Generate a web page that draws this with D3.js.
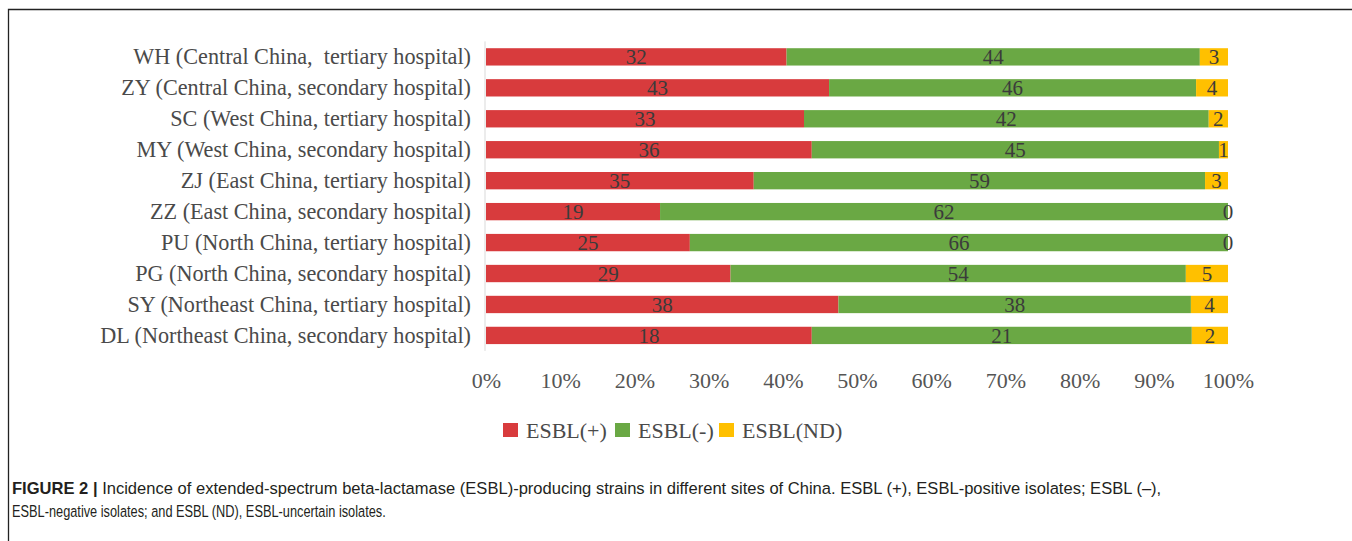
<!DOCTYPE html>
<html>
<head>
<meta charset="utf-8">
<script src="https://cdn.jsdelivr.net/npm/d3@7"></script>
<style>
html,body{margin:0;padding:0;background:#fff;}
svg{display:block;}
</style>
</head>
<body>
<svg id="chart" width="1352" height="541"></svg>
<script>
const categories = [
  "WH (Central China,  tertiary hospital)",
  "ZY (Central China, secondary hospital)",
  "SC (West China, tertiary hospital)",
  "MY (West China, secondary hospital)",
  "ZJ (East China, tertiary hospital)",
  "ZZ (East China, secondary hospital)",
  "PU (North China, tertiary hospital)",
  "PG (North China, secondary hospital)",
  "SY (Northeast China, tertiary hospital)",
  "DL (Northeast China, secondary hospital)"
];
const esblPos = [32, 43, 33, 36, 35, 19, 25, 29, 38, 18];
const esblNeg = [44, 46, 42, 45, 59, 62, 66, 54, 38, 21];
const esblND  = [3, 4, 2, 1, 3, 0, 0, 5, 4, 2];
const seriesNames = ["ESBL(+)", "ESBL(-)", "ESBL(ND)"];
const xTicks = [0, 0.1, 0.2, 0.3, 0.4, 0.5, 0.6, 0.7, 0.8, 0.9, 1.0];
const captionBold = "FIGURE 2 |";
const captionLine1 = " Incidence of extended-spectrum beta-lactamase (ESBL)-producing strains in different sites of China. ESBL (+), ESBL-positive isolates; ESBL (\u2013),";
const captionLine2 = "ESBL-negative isolates; and ESBL (ND), ESBL-uncertain isolates.";

const colors = ["#d83b3d", "#6aa844", "#ffc000"];
const serif = "'Liberation Serif','Times New Roman',serif";

const svg = d3.select("#chart");

// frame
svg.append("path")
  .attr("d", "M1352,9.5H8.5V541")
  .attr("fill", "none").attr("stroke", "#222").attr("stroke-width", 1.3);

const rows = categories.map((c, i) => ({cat: c, v: [esblPos[i], esblNeg[i], esblND[i]]}));
const stackData = rows.map(r => {
  const t = d3.sum(r.v);
  return {cat: r.cat, raw: r.v, s0: r.v[0] / t, s1: r.v[1] / t, s2: r.v[2] / t};
});
const series = d3.stack().keys(["s0", "s1", "s2"])(stackData);

const x = d3.scaleLinear().domain([0, 1]).range([486, 1228]);
const y = d3.scaleBand().domain(categories).range([41.4, 350.9])
  .paddingInner(0.44).paddingOuter(0.22);

// vertical axis line
svg.append("line")
  .attr("x1", 485).attr("x2", 485)
  .attr("y1", y.range()[0]).attr("y2", y.range()[1])
  .attr("stroke", "#d9d9d9").attr("stroke-width", 1);

// bars
series.forEach((s, k) => {
  svg.append("g").attr("fill", colors[k])
    .selectAll("rect").data(s).join("rect")
    .attr("x", d => x(d[0]))
    .attr("y", d => y(d.data.cat))
    .attr("width", d => x(d[1]) - x(d[0]))
    .attr("height", y.bandwidth());
});

// value labels
series.forEach((s, k) => {
  svg.append("g").selectAll("text").data(s).join("text")
    .attr("x", d => (x(d[0]) + x(d[1])) / 2)
    .attr("y", d => y(d.data.cat) + y.bandwidth() / 2)
    .attr("dy", "0.35em")
    .attr("text-anchor", "middle")
    .attr("font-family", serif)
    .attr("font-size", 21)
    .attr("fill", "#3b3b3b")
    .text(d => d.data.raw[k]);
});

// category labels
const yAxis = d3.axisLeft(y).tickSize(0).tickPadding(0);
const yg = svg.append("g").attr("transform", "translate(471,0)").call(yAxis);
yg.select(".domain").remove();
yg.selectAll("text")
  .attr("font-family", serif).attr("font-size", 22.2).attr("fill", "#4a4a4a")
  .style("white-space", "pre");

// x axis labels
const xAxis = d3.axisBottom(x).tickValues(xTicks).tickFormat(d3.format(".0%")).tickSize(0).tickPadding(0);
const xg = svg.append("g").attr("transform", "translate(0,372)").call(xAxis);
xg.select(".domain").remove();
xg.selectAll("text")
  .attr("font-family", serif).attr("font-size", 22).attr("fill", "#555")
  .attr("dy", "0.71em");

// legend
const legendX = [503, 615, 719];
const lg = svg.append("g");
seriesNames.forEach((n, i) => {
  lg.append("rect").attr("x", legendX[i]).attr("y", 423).attr("width", 15).attr("height", 14).attr("fill", colors[i]);
  lg.append("text").attr("x", legendX[i] + 23).attr("y", 430).attr("dy", "0.35em")
    .attr("font-family", serif).attr("font-size", 22).attr("fill", "#4a4a4a").text(n);
});

// caption
const capFont = "'Liberation Sans',Arial,sans-serif";
const capSize = 16.5;
const cap1 = svg.append("text").attr("x", 0).attr("y", 0)
  .attr("font-family", capFont).attr("font-size", capSize).attr("fill", "#231f20");
cap1.append("tspan").attr("font-weight", "bold").text(captionBold);
cap1.append("tspan").text(captionLine1);
const w1 = cap1.node().getComputedTextLength();
cap1.attr("transform", `translate(12,494) scale(${(1162 - 12) / w1},1)`);

const cap2 = svg.append("text").attr("x", 0).attr("y", 0)
  .attr("font-family", capFont).attr("font-size", capSize).attr("fill", "#231f20")
  .text(captionLine2);
const w2 = cap2.node().getComputedTextLength();
cap2.attr("transform", `translate(12,517) scale(${(386 - 12) / w2},1)`);
</script>
</body>
</html>
